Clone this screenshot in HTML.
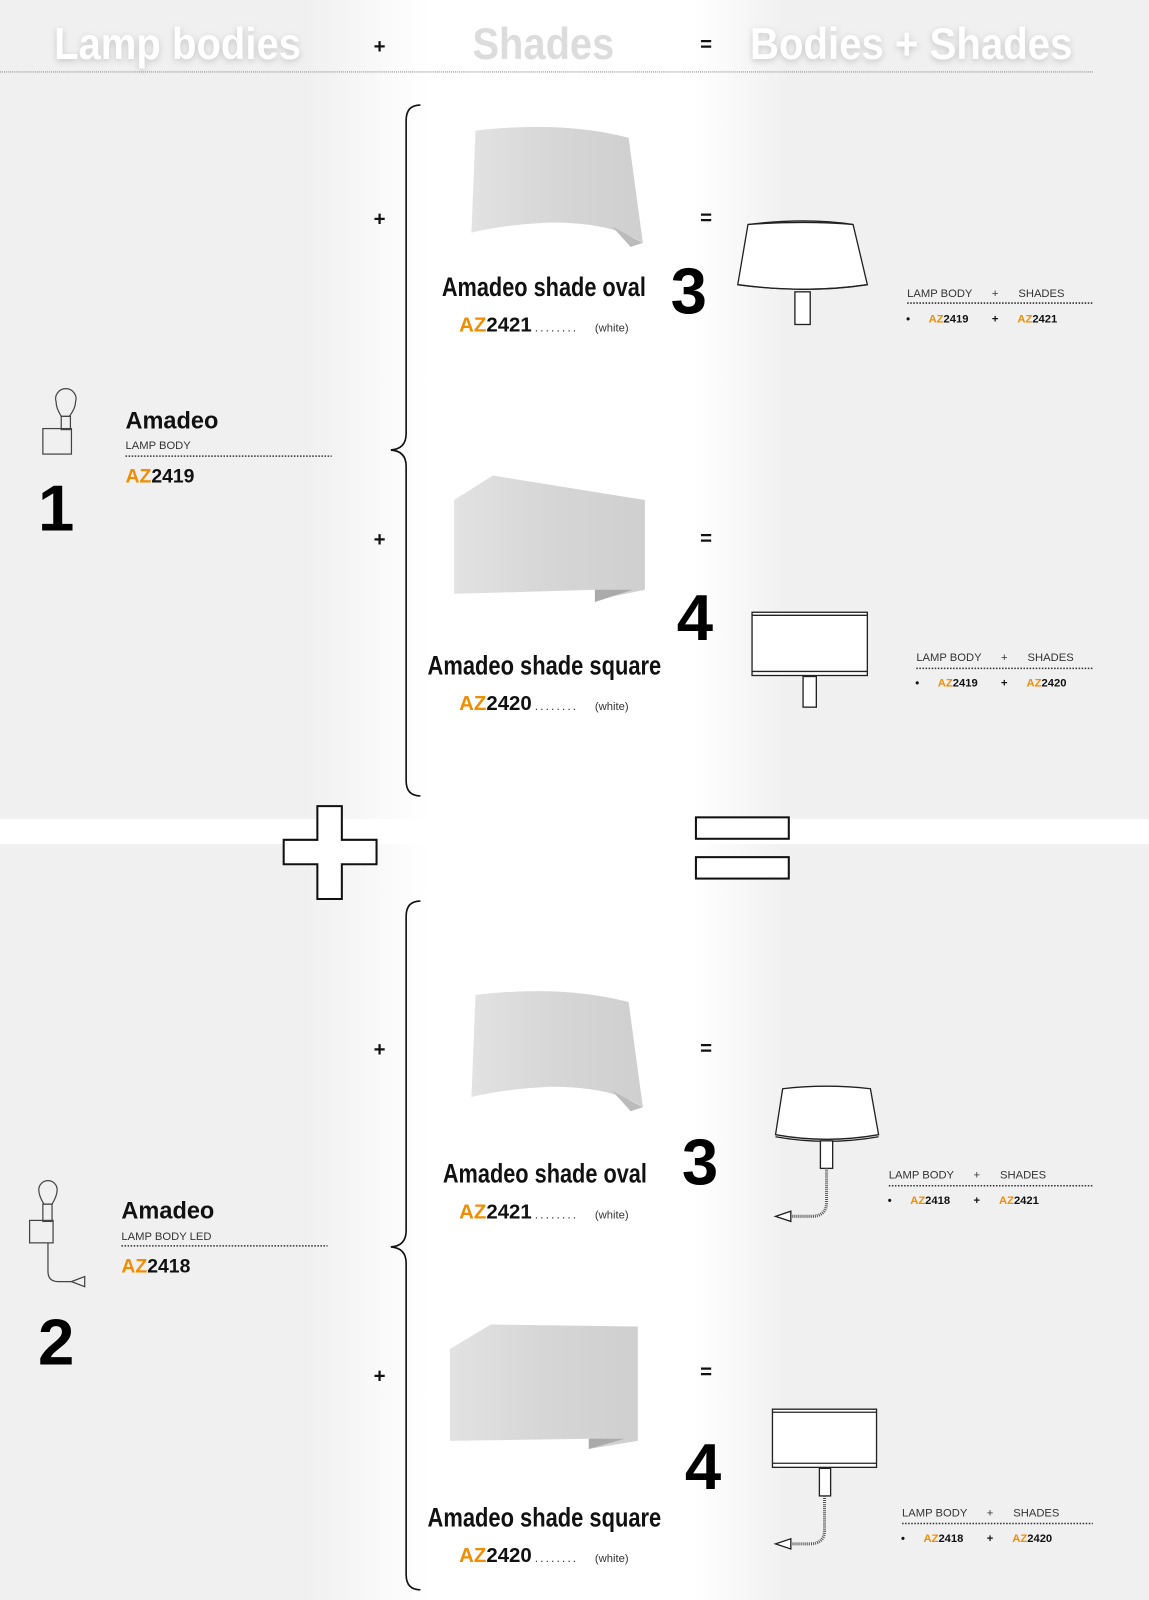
<!DOCTYPE html>
<html><head><meta charset="utf-8"><style>
html,body{margin:0;padding:0}
body{width:1149px;height:1600px;position:relative;overflow:hidden;
background:linear-gradient(90deg,#f0f0f0 0px,#f0f0f0 306px,#fff 428px,#fff 694px,#f0f0f0 786px,#f0f0f0 1149px);}
svg{position:absolute;left:0;top:0}
text{font-family:"Liberation Sans",sans-serif}
.n{font-family:"Liberation Sans",sans-serif;font-weight:bold}
</style></head><body>
<div style="position:absolute;left:0;top:819px;width:1149px;height:25px;background:#fff"></div>
<svg width="1149" height="1600" viewBox="0 0 1126 1568">
<defs>
<linearGradient id="sg" x1="0" y1="0" x2="1" y2="0"><stop offset="0" stop-color="#e2e2e2"/><stop offset="0.5" stop-color="#d6d6d6"/><stop offset="1" stop-color="#cfcfcf"/></linearGradient>
<filter id="sh" x="-20%" y="-40%" width="140%" height="180%"><feGaussianBlur stdDeviation="3"/></filter>
</defs>
<!-- header -->
<g class="n" font-size="44">
<text x="53" y="60" fill="#999" opacity=".5" filter="url(#sh)" textLength="242" lengthAdjust="spacingAndGlyphs">Lamp bodies</text>
<text x="53" y="58" fill="#fff" textLength="242" lengthAdjust="spacingAndGlyphs">Lamp bodies</text>
<text x="463" y="58" fill="#dcdcdc" textLength="139" lengthAdjust="spacingAndGlyphs">Shades</text>
<text x="735" y="60" fill="#999" opacity=".5" filter="url(#sh)" textLength="316" lengthAdjust="spacingAndGlyphs">Bodies + Shades</text>
<text x="735" y="58" fill="#fff" textLength="316" lengthAdjust="spacingAndGlyphs">Bodies + Shades</text>
</g>
<g font-size="20" font-weight="bold" text-anchor="middle" fill="#111">
<text x="372" y="52">+</text><text x="692" y="50">=</text>
<text x="372" y="221">+</text><text x="692" y="220">=</text>
<text x="372" y="535">+</text><text x="692" y="534">=</text>
<text x="372" y="1035">+</text><text x="692" y="1034">=</text>
<text x="372" y="1355">+</text><text x="692" y="1351">=</text>
</g>
<line x1="0" y1="70.5" x2="1072" y2="70.5" stroke="#888" stroke-dasharray="1,1"/>
<!-- braces -->
<g fill="none" stroke="#111" stroke-width="1.6">
<path d="M412,103 Q398,103 398,118 L398,425 Q398,440 383,441 Q398,442 398,457 L398,765 Q398,780 412,780"/>
<path d="M412,883 Q398,883 398,898 L398,1206 Q398,1221 383,1222 Q398,1223 398,1238 L398,1543 Q398,1558 412,1558"/>
</g>
<!-- shades images -->
<path d="M466,128 Q550,118 616,135 L630,238 Q600,218 540,218 Q495,220 462,228 Z" fill="url(#sg)"/>
<path d="M600,222 L630,238 L618,242 Z" fill="#bbb"/>
<g transform="translate(0,847)"><path d="M466,128 Q550,118 616,135 L630,238 Q600,218 540,218 Q495,220 462,228 Z" fill="url(#sg)"/><path d="M600,222 L630,238 L618,242 Z" fill="#bbb"/></g>
<path d="M445,490 L483,466 L632,490 L632,578 L583,588 L583,578 L445,582 Z" fill="url(#sg)"/>
<path d="M583,578 L620,578 L583,590 Z" fill="#aaa"/>
<path d="M441,1322 L481,1298 L625,1300 L625,1412 L577,1420 L577,1410 L441,1412 Z" fill="url(#sg)"/>
<path d="M577,1410 L612,1410 L577,1420 Z" fill="#aaa"/>
<!-- shade labels -->
<g class="n" font-size="26" fill="#111">
<text x="433" y="290" textLength="200" lengthAdjust="spacingAndGlyphs">Amadeo shade oval</text>
<text x="419" y="661" textLength="229" lengthAdjust="spacingAndGlyphs">Amadeo shade square</text>
<text x="434" y="1159" textLength="200" lengthAdjust="spacingAndGlyphs">Amadeo shade oval</text>
<text x="419" y="1496" textLength="229" lengthAdjust="spacingAndGlyphs">Amadeo shade square</text>
</g>
<g font-size="20" font-weight="bold">
<text x="450" y="325"><tspan fill="#f28c00">AZ</tspan><tspan fill="#111">2421</tspan></text>
<text x="450" y="696"><tspan fill="#f28c00">AZ</tspan><tspan fill="#111">2420</tspan></text>
<text x="450" y="1194"><tspan fill="#f28c00">AZ</tspan><tspan fill="#111">2421</tspan></text>
<text x="450" y="1531"><tspan fill="#f28c00">AZ</tspan><tspan fill="#111">2420</tspan></text>
</g>
<g font-size="12" fill="#333">
<text x="524" y="325" letter-spacing="2">........</text><text x="583" y="325" font-size="11">(white)</text>
<text x="524" y="696" letter-spacing="2">........</text><text x="583" y="696" font-size="11">(white)</text>
<text x="524" y="1194" letter-spacing="2">........</text><text x="583" y="1194" font-size="11">(white)</text>
<text x="524" y="1531" letter-spacing="2">........</text><text x="583" y="1531" font-size="11">(white)</text>
</g>
<!-- big numbers -->
<g font-weight="bold" font-size="64" fill="#000" text-anchor="middle">
<text x="675" y="307">3</text><text x="681" y="627">4</text>
<text x="686" y="1161">3</text><text x="689" y="1459">4</text>
<text x="55" y="520">1</text><text x="55" y="1337">2</text>
</g>
<!-- result lamps -->
<g fill="#fff" stroke="#222" stroke-width="1.3">
<path d="M733,220 Q790,213 836,220 L850,279 Q790,288 723,279 Z"/>
<path d="M723,279 Q790,288 850,279" fill="none"/><path d="M733,220 Q790,216 836,220" fill="none"/>
<rect x="779" y="286" width="15" height="32"/>
<rect x="737" y="600" width="113" height="62"/>
<line x1="737" y1="603" x2="850" y2="603"/><line x1="737" y1="658" x2="850" y2="658"/>
<rect x="787" y="663" width="13" height="30"/>
<path d="M767,1067 Q810,1062 853,1067 L861,1112 Q810,1121 760,1112 Z"/>
<path d="M760,1114 Q810,1123 861,1114" fill="none"/>
<rect x="804" y="1118" width="12" height="27"/>
<rect x="757" y="1381" width="102" height="57"/>
<line x1="757" y1="1384" x2="859" y2="1384"/><line x1="757" y1="1434" x2="859" y2="1434"/>
<rect x="803" y="1439" width="11" height="27"/>
<path d="M760,1192 L775,1187 L775,1197 Z"/><path d="M760,1513 L775,1508 L775,1518 Z"/>
</g>
<g fill="none" stroke="#555" stroke-width="3" stroke-dasharray="1,1">
<path d="M810,1145 L810,1178 Q810,1192 795,1192 L776,1192"/>
<path d="M808,1466 L808,1500 Q808,1513 793,1513 L776,1513"/>
</g>
<!-- info blocks -->
<g font-size="11" fill="#333">
<text x="889" y="291">LAMP BODY</text><text x="972" y="291">+</text><text x="998" y="291">SHADES</text>
<text x="898" y="648">LAMP BODY</text><text x="981" y="648">+</text><text x="1007" y="648">SHADES</text>
<text x="871" y="1155">LAMP BODY</text><text x="954" y="1155">+</text><text x="980" y="1155">SHADES</text>
<text x="884" y="1486">LAMP BODY</text><text x="967" y="1486">+</text><text x="993" y="1486">SHADES</text>
</g>
<g stroke="#333" stroke-dasharray="1.5,1.5" stroke-width="1.5">
<line x1="889" y1="297" x2="1071" y2="297"/><line x1="898" y1="655" x2="1071" y2="655"/>
<line x1="871" y1="1162" x2="1071" y2="1162"/><line x1="884" y1="1493" x2="1071" y2="1493"/>
</g>
<g font-size="11" font-weight="bold" fill="#111">
<text x="888" y="316">•</text><text x="910" y="316"><tspan fill="#f28c00">AZ</tspan>2419</text><text x="972" y="316">+</text><text x="997" y="316"><tspan fill="#f28c00">AZ</tspan>2421</text>
<text x="897" y="673">•</text><text x="919" y="673"><tspan fill="#f28c00">AZ</tspan>2419</text><text x="981" y="673">+</text><text x="1006" y="673"><tspan fill="#f28c00">AZ</tspan>2420</text>
<text x="870" y="1180">•</text><text x="892" y="1180"><tspan fill="#f28c00">AZ</tspan>2418</text><text x="954" y="1180">+</text><text x="979" y="1180"><tspan fill="#f28c00">AZ</tspan>2421</text>
<text x="883" y="1511">•</text><text x="905" y="1511"><tspan fill="#f28c00">AZ</tspan>2418</text><text x="967" y="1511">+</text><text x="992" y="1511"><tspan fill="#f28c00">AZ</tspan>2420</text>
</g>
<!-- lamp bodies -->
<g fill="none" stroke="#444" stroke-width="1.2">
<path d="M60,408 Q55,400 55,394 A10,10 0 1 1 74,394 Q74,400 68,408 Z"/>
<rect x="60" y="408" width="9" height="13"/>
<rect x="42" y="420" width="28" height="25"/>
<path d="M43,1180 Q38,1172 38,1166 A9,9 0 1 1 56,1166 Q56,1172 51,1180 Z"/>
<rect x="42" y="1180" width="9" height="17"/>
<rect x="29" y="1196" width="23" height="22"/>
<path d="M47,1218 L47,1246 Q47,1256 57,1256 L70,1256"/>
<path d="M70,1256 L83,1251 L83,1261 Z"/>
</g>
<g fill="#111">
<text x="123" y="420" font-size="24" font-weight="bold" textLength="91" lengthAdjust="spacingAndGlyphs">Amadeo</text>
<text x="123" y="440" font-size="11" fill="#333">LAMP BODY</text>
<text x="123" y="473" font-size="19" font-weight="bold"><tspan fill="#f28c00">AZ</tspan>2419</text>
<text x="119" y="1194" font-size="24" font-weight="bold" textLength="91" lengthAdjust="spacingAndGlyphs">Amadeo</text>
<text x="119" y="1215" font-size="11" fill="#333">LAMP BODY LED</text>
<text x="119" y="1247" font-size="19" font-weight="bold"><tspan fill="#f28c00">AZ</tspan>2418</text>
</g>
<g stroke="#333" stroke-dasharray="1.5,1.5" stroke-width="1.5">
<line x1="123" y1="447" x2="325" y2="447"/><line x1="119" y1="1221" x2="321" y2="1221"/>
</g>
<!-- big plus / equals -->
<path d="M311,790 L335,790 L335,823 L369,823 L369,847 L335,847 L335,881 L311,881 L311,847 L278,847 L278,823 L311,823 Z" fill="#fff" stroke="#111" stroke-width="2"/>
<rect x="682" y="801" width="91" height="21" fill="#fff" stroke="#111" stroke-width="2"/>
<rect x="682" y="840" width="91" height="21" fill="#fff" stroke="#111" stroke-width="2"/>
</svg>
</body></html>
